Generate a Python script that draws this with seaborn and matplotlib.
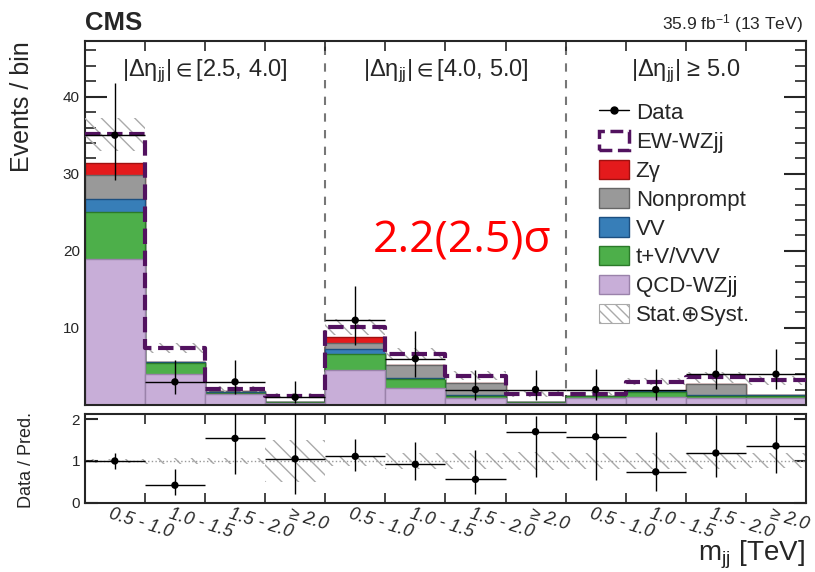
import numpy as np
import pandas as pd
import matplotlib.pyplot as plt
import matplotlib.transforms as mtransforms
from matplotlib.patches import Patch
from matplotlib.lines import Line2D
from matplotlib.ticker import MultipleLocator, FixedLocator
import seaborn as sns

# 12 bins: 4 mjj bins in each of 3 |delta eta_jj| regions
mjj_labels = ['0.5 - 1.0', '1.0 - 1.5', '1.5 - 2.0', '≥ 2.0'] * 3
region_labels = ['|Δη$_{\\rm jj}$|$\\in$[2.5, 4.0]',
                 '|Δη$_{\\rm jj}$|$\\in$[4.0, 5.0]',
                 '|Δη$_{\\rm jj}$| ≥ 5.0']

# predicted yields per bin
qcd_wzjj = [19.0, 4.0, 1.4, 0.3, 4.5, 2.2, 0.9, 0.3, 0.85, 1.0, 0.9, 0.85]
tv_vvv = [6.0, 1.5, 0.2, 0.1, 2.15, 1.15, 0.3, 0.1, 0.25, 0.7, 0.3, 0.35]
vv = [1.7, 0.1, 0.05, 0.02, 0.65, 0.15, 0.05, 0.02, 0.05, 0.05, 0.05, 0.05]
nonprompt = [3.1, 0.0, 0.1, 0.0, 0.77, 1.7, 1.55, 0.0, 0.0, 0.0, 1.45, 0.0]
zgamma = [1.6, 0.0, 0.0, 0.0, 0.77, 0.0, 0.0, 0.0, 0.0, 0.0, 0.0, 0.0]
ew_wzjj = [3.7, 1.8, 0.35, 0.78, 1.26, 1.45, 1.0, 1.0, 0.25, 1.25, 0.9, 1.95]
pred_unc = [2.1, 0.6, 0.4, 0.3, 1.0, 0.8, 0.6, 0.35, 0.3, 0.45, 0.7, 0.6]

# observed data
data = [35, 3, 3, 1, 11, 6, 2, 2, 2, 2, 4, 4]
data_up = [6.8, 2.9, 2.9, 2.1, 4.4, 3.6, 2.6, 2.6, 2.7, 2.7, 3.2, 3.2]
data_dn = [5.8, 1.6, 1.6, 0.8, 3.2, 2.4, 1.3, 1.3, 1.3, 1.3, 1.9, 1.9]

# ratio panel
ratio = [1.0, 0.42, 1.54, 1.05, 1.11, 0.92, 0.56, 1.7, 1.58, 0.74, 1.19, 1.36]
ratio_up = [0.2, 0.39, 0.6, 1.2, 0.42, 0.53, 0.71, 0.38, 0.6, 0.96, 0.9, 0.75]
ratio_dn = [0.19, 0.23, 0.85, 0.85, 0.36, 0.37, 0.36, 1.09, 1.03, 0.46, 0.58, 0.65]
ratio_unc = [0.05, 0.08, 0.08, 0.5, 0.12, 0.2, 0.2, 0.22, 0.2, 0.2, 0.2, 0.18]

sns.set_theme(style='ticks')
plt.rcParams['font.family'] = ['Liberation Sans', 'DejaVu Sans']
plt.rcParams['mathtext.fontset'] = 'custom'
plt.rcParams['mathtext.rm'] = 'Liberation Sans'
plt.rcParams['mathtext.it'] = 'Liberation Sans:italic'
plt.rcParams['mathtext.fallback'] = 'stixsans'
plt.rcParams['hatch.linewidth'] = 1.0
plt.rcParams['axes.linewidth'] = 1.5

nb = len(data)
edges = np.arange(nb + 1)
df = pd.DataFrame({'bin': edges[:-1] + 0.5, 'QCD-WZjj': qcd_wzjj, 't+V/VVV': tv_vvv,
                   'VV': vv, 'Nonprompt': nonprompt, 'Zγ': zgamma, 'EW-WZjj': ew_wzjj})

stack_order = ['QCD-WZjj', 't+V/VVV', 'VV', 'Nonprompt', 'Zγ']
colors = {'QCD-WZjj': ('#c8aed8', '#9a82aa'), 't+V/VVV': ('#4daf4a', '#2b7a29'),
          'VV': ('#377eb8', '#1d4f80'), 'Nonprompt': ('#999999', '#666666'),
          'Zγ': ('#e41a1c', '#a01010')}
ew_color = '#52125f'
hatch_col = '#aaaaaa'

fig = plt.figure(figsize=(8.15, 5.72), dpi=100)
ax = fig.add_axes([0.104, 0.292, 0.885, 0.636])
rax = fig.add_axes([0.104, 0.121, 0.885, 0.155])

# separators between |delta eta| regions
for xv in [4, 8]:
    ax.axvline(xv, color='#777777', ls=(0, (4, 4)), lw=1.5, zorder=0)

# stacked backgrounds drawn as cumulative layers, tallest first
cum = df[stack_order].cumsum(axis=1)
cum['total'] = cum[stack_order[-1]] + df['EW-WZjj']
cum['bin'] = df['bin']
for name in stack_order[::-1]:
    sns.histplot(data=cum, x='bin', weights=name, binwidth=1, binrange=(0, nb),
                 color=colors[name][0], edgecolor=colors[name][1], linewidth=1,
                 alpha=1, ax=ax, zorder=2)

total = cum['total'].to_numpy()
ax.bar(df['bin'], 2 * np.array(pred_unc), bottom=total - np.array(pred_unc), width=1,
       fill=False, hatch='\\\\', edgecolor=hatch_col, linewidth=0, zorder=3)
sns.histplot(data=cum, x='bin', weights='total', binwidth=1, binrange=(0, nb),
             element='step', fill=False, color=ew_color, linestyle='--', linewidth=3,
             ax=ax, zorder=4)

ax.errorbar(df['bin'], data, yerr=[data_dn, data_up], xerr=0.5, fmt='none',
            ecolor='black', elinewidth=1, capsize=0, zorder=5)
sns.scatterplot(x=df['bin'], y=data, color='black', s=28, edgecolor='none', ax=ax, zorder=6)

ax.set_xlim(0, nb)
ax.set_ylim(0, 47.2)
ax.set_xlabel('')
ax.set_ylabel('')
ax.set_xticks(edges[1:-1])
ax.set_xticklabels([])
ax.yaxis.set_major_locator(FixedLocator([10, 20, 30, 40]))
ax.yaxis.set_minor_locator(MultipleLocator(2))
ax.tick_params(axis='y', which='major', direction='in', length=16, width=1.5,
               left=True, right=True, labelsize=11)
ax.tick_params(axis='y', which='minor', direction='in', length=8, width=1.2,
               left=True, right=True)
ax.tick_params(axis='x', which='major', direction='in', length=7, width=1.2,
               top=True, bottom=True)

trans = mtransforms.blended_transform_factory(ax.transData, ax.transAxes)
for i, lab in enumerate(region_labels):
    ax.text(2 + 4 * i, 0.904, lab, transform=trans, ha='center', va='baseline', fontsize=17)

# legend
handles = [Line2D([], [], color='black', marker='o', ms=5, lw=1),
           Patch(facecolor='none', edgecolor=ew_color, linestyle='--', linewidth=2.5),
           Patch(facecolor=colors['Zγ'][0], edgecolor=colors['Zγ'][1]),
           Patch(facecolor=colors['Nonprompt'][0], edgecolor=colors['Nonprompt'][1]),
           Patch(facecolor=colors['VV'][0], edgecolor=colors['VV'][1]),
           Patch(facecolor=colors['t+V/VVV'][0], edgecolor=colors['t+V/VVV'][1]),
           Patch(facecolor=colors['QCD-WZjj'][0], edgecolor=colors['QCD-WZjj'][1]),
           Patch(facecolor='white', edgecolor=hatch_col, hatch='\\\\\\', linewidth=0.8)]
labels = ['Data', 'EW-WZjj', 'Zγ', 'Nonprompt', 'VV', 't+V/VVV', 'QCD-WZjj', 'Stat.⊕Syst.']
ax.legend(handles, labels, loc='upper left', bbox_to_anchor=(0.735, 0.822),
          bbox_transform=fig.transFigure, frameon=False, fontsize=16,
          handlelength=1.35, handleheight=0.95, handletextpad=0.3,
          labelspacing=0.3, borderpad=0, borderaxespad=0)

# ratio panel
rax.bar(df['bin'], 2 * np.array(ratio_unc), bottom=1 - np.array(ratio_unc), width=1,
        fill=False, hatch='\\\\', edgecolor=hatch_col, linewidth=0, zorder=1)
rax.axhline(1, color='#999999', ls=':', lw=1, zorder=1)
rax.errorbar(df['bin'], ratio, yerr=[ratio_dn, ratio_up], xerr=0.5, fmt='none',
             ecolor='black', elinewidth=1, capsize=0, zorder=3)
sns.scatterplot(x=df['bin'], y=ratio, color='black', s=28, edgecolor='none', ax=rax, zorder=4)
rax.set_xlim(0, nb)
rax.set_ylim(0, 2.12)
rax.set_xlabel('')
rax.set_ylabel('')
rax.set_xticks(edges[1:-1])
rax.set_xticklabels([])
rax.set_yticks([0, 1, 2])
rax.tick_params(axis='y', direction='in', length=9, width=1.5, left=True, right=True,
                labelsize=11)
rax.tick_params(axis='x', direction='in', length=7, width=1.2, top=True, bottom=True)

rtrans = mtransforms.blended_transform_factory(rax.transData, rax.transAxes)
for i, lab in enumerate(mjj_labels):
    rax.text(i + 0.45, -0.03, lab, transform=rtrans, ha='left', va='top', rotation=-17,
             rotation_mode='anchor', fontsize=13, style='italic')

# figure texts
fig.text(0.104, 0.9476, 'CMS', fontsize=18.5, fontweight='bold', ha='left', va='baseline')
fig.text(0.985, 0.949, '35.9 fb$^{-1}$ (13 TeV)', fontsize=12.5, ha='right', va='baseline')
fig.text(0.027, 0.813, 'Events / bin', rotation=90, ha='center', va='center', fontsize=18)
fig.text(0.032, 0.196, 'Data / Pred.', rotation=90, ha='center', va='center', fontsize=13)
fig.text(0.988, 0.02, 'm$_{\\rm jj}$ [TeV]', ha='right', va='baseline', fontsize=20)
fig.text(0.4577, 0.5577, '2.2(2.5)σ', color='#ff0000', fontsize=32, family='Open Sans',
         ha='left', va='baseline')

fig.savefig('out.png', dpi=100)
